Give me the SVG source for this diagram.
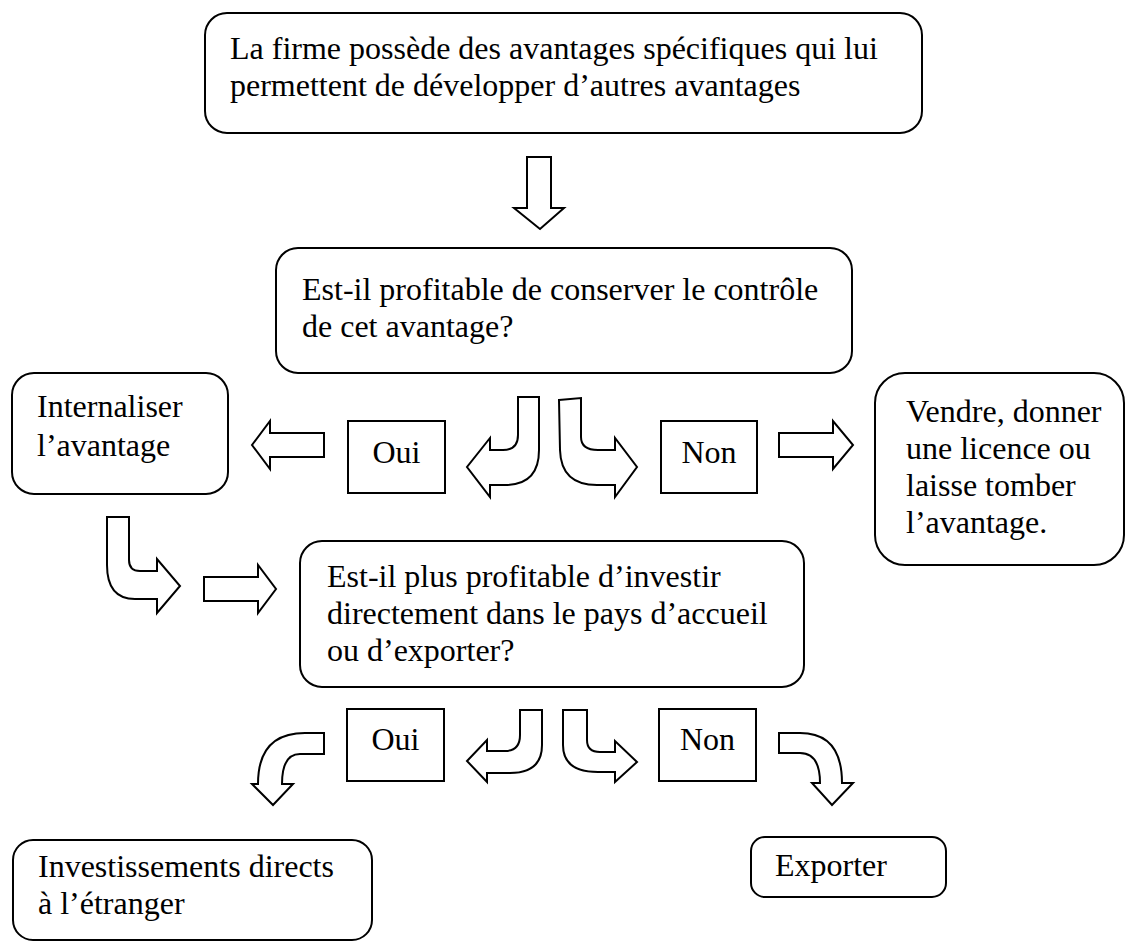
<svg xmlns="http://www.w3.org/2000/svg" width="1126" height="943" viewBox="0 0 1126 943">
<style>
.box{fill:#fff;stroke:#000;stroke-width:2}
.arr{fill:#fff;stroke:#000;stroke-width:2;stroke-linejoin:miter}
text{font-family:"Liberation Serif","Times New Roman",serif;font-size:32px;fill:#000}
</style>
<rect width="1126" height="943" fill="#fff"/>
<g id="n1"><rect class="box" x="205" y="13" width="717" height="120" rx="22"/>
<text x="230" y="59">La firme possède des avantages spécifiques qui lui</text>
<text x="230" y="96">permettent de développer d’autres avantages</text></g>
<g id="n2"><rect class="box" x="276" y="248" width="576" height="125" rx="22"/>
<text x="302" y="300">Est-il profitable de conserver le contrôle</text>
<text x="302" y="337">de cet avantage?</text></g>
<g id="n3"><rect class="box" x="12" y="373" width="216" height="121" rx="22"/>
<text x="37" y="417">Internaliser</text>
<text x="37" y="456">l’avantage</text></g>
<g id="n4"><rect class="box" x="348" y="421" width="97" height="72"/>
<text x="396.5" y="463" text-anchor="middle">Oui</text></g>
<g id="n5"><rect class="box" x="661" y="421" width="96" height="72"/>
<text x="709" y="463" text-anchor="middle">Non</text></g>
<g id="n6"><rect class="box" x="875" y="373" width="249" height="192" rx="30"/>
<text x="906" y="422">Vendre, donner</text>
<text x="906" y="459">une licence ou</text>
<text x="906" y="496">laisse tomber</text>
<text x="906" y="533">l’avantage.</text></g>
<g id="n7"><rect class="box" x="300" y="541" width="504" height="146" rx="22"/>
<text x="327" y="587">Est-il plus profitable d’investir</text>
<text x="327" y="624">directement dans le pays d’accueil</text>
<text x="327" y="661">ou d’exporter?</text></g>
<g id="n8"><rect class="box" x="347" y="709" width="97" height="72"/>
<text x="395.5" y="750" text-anchor="middle">Oui</text></g>
<g id="n9"><rect class="box" x="659" y="709" width="97" height="72"/>
<text x="707.5" y="750" text-anchor="middle">Non</text></g>
<g id="n10"><rect class="box" x="13" y="840" width="359" height="100" rx="20"/>
<text x="38" y="877">Investissements directs</text>
<text x="38" y="914">à l’étranger</text></g>
<g id="n11"><rect class="box" x="751" y="837" width="195" height="60" rx="14"/>
<text x="775" y="876">Exporter</text></g>
<g id="connectors">
<path class="arr" d="M527,157 L551,157 L551,208 L564,208 L540,229 L514,208 L527,208 Z"/>
<path class="arr" d="M324,433 L324,457 L270,457 L270,469 L252,445 L270,421 L270,433 Z"/>
<path class="arr" d="M779,433 L833,433 L833,421 L853,445 L833,469 L833,457 L779,457 Z"/>
<path class="arr" d="M518,397 L539,397 L539,450 Q539,485 505,485 L490,485 L490,497 L467,467 L490,438 L490,450 L503,450 Q518,450 518,435 Z"/>
<path class="arr" d="M559,400 L581,398 L581,437 Q581,450 598,450 L615,450 L615,438 L637,467 L615,497 L615,485 L597,485 Q561,485 560,450 Z"/>
<path class="arr" d="M107,517 L129,517 L129,560 Q129,571 140,571 L157,571 L157,559 L180,586 L157,613 L157,599 L135,599 Q107,599 107,565 Z"/>
<path class="arr" d="M204,577 L258,577 L258,565 L276,589 L258,613 L258,601 L204,601 Z"/>
<path class="arr" d="M520,710 L542,710 L542,745 Q542,773 510,773 L487,773 L487,782 L467,761 L487,740 L487,751 L505,751 Q520,751 520,735 Z"/>
<path class="arr" d="M563,710 L587,710 L587,740 Q587,752 600,752 L615,752 L615,741 L637,762 L615,782 L615,772 L598,772 Q563,772 563,745 Z"/>
<path class="arr" d="M324,733 L324,754 L300,754 Q282,754 282,784 L293,784 L273,805 L252,784 L258,784 Q258,733 305,733 Z"/>
<path class="arr" d="M779,733 L800,733 Q842,733 842,783 L853,783 L832,805 L812,783 L820,783 Q820,753 800,753 L779,753 Z"/>
</g>
</svg>
